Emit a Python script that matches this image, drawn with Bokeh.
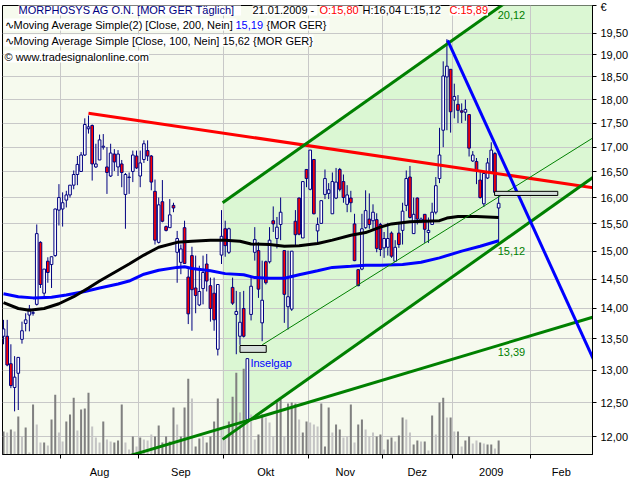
from bokeh.plotting import figure
from bokeh.models import Range1d, FixedTicker, CustomJSTickFormatter, Label, LinearScale
from bokeh.embed import file_html
from bokeh.resources import INLINE
from bokeh.core.properties import value
import numpy as np

FONT = "Liberation Sans"

# ---------------- data ----------------
opens = [13.54, 13.54, 13.10, 12.73, 12.95, 13.49, 13.75, 13.89, 13.92, 14.07,
         15.16, 14.26, 14.82, 14.76, 14.92, 15.76, 15.78, 15.95, 16.05, 16.24,
         16.45, 16.51, 16.84, 17.38, 17.45, 16.60, 16.74, 17.00, 16.60, 16.42,
         16.86, 16.60, 16.66, 16.06, 16.39, 16.51, 16.82, 16.42, 16.75, 16.93,
         16.82, 16.12, 15.16, 15.92, 15.45, 15.43, 15.85, 14.98, 14.80, 15.43,
         14.54, 14.92, 14.35, 14.06, 14.34, 14.77, 14.39, 14.26, 13.33, 14.93,
         15.41, 14.98, 14.36, 13.90, 13.54, 14.00, 12.25, 13.90, 14.98, 15.01,
         13.76, 14.81, 14.81, 15.56, 15.23, 15.49, 15.01, 14.03, 13.99, 15.55,
         15.99, 15.24, 16.55, 16.16, 16.75, 15.37, 15.51, 16.06, 16.08, 15.69,
         15.99, 16.55, 16.31, 15.87, 15.99, 15.50, 14.67, 14.68, 15.43, 15.59,
         15.56, 15.58, 15.49, 15.06, 15.07, 15.33, 14.82, 15.33, 15.38, 15.85,
         16.40, 15.32, 15.99, 15.56, 15.68, 15.34, 15.49, 15.72, 16.37, 17.35,
         18.50, 18.67, 17.99, 17.90, 17.76, 17.73, 17.68, 16.72, 16.71, 16.34,
         15.88, 16.38, 16.50, 16.87, 15.80]
highs = [13.81, 13.81, 13.41, 13.22, 13.20, 13.78, 13.92, 14.06, 13.96, 15.49,
         15.18, 14.68, 14.89, 14.90, 15.79, 16.26, 16.10, 16.13, 16.24, 16.53,
         16.82, 16.90, 17.60, 17.66, 17.47, 17.07, 17.26, 17.27, 17.00, 17.07,
         16.96, 16.94, 16.74, 16.48, 16.49, 16.93, 16.93, 16.93, 17.14, 17.14,
         16.84, 16.35, 16.00, 16.34, 15.47, 15.97, 15.90, 15.37, 15.12, 15.56,
         14.68, 15.08, 14.92, 14.74, 14.92, 14.95, 14.53, 14.53, 14.41, 15.76,
         15.56, 15.43, 14.53, 14.30, 14.28, 14.30, 13.18, 14.55, 15.44, 15.16,
         14.83, 14.83, 15.44, 15.83, 15.63, 16.00, 15.01, 15.01, 15.00, 15.76,
         16.00, 16.31, 16.55, 16.94, 16.75, 15.62, 15.94, 16.55, 16.28, 16.49,
         16.58, 16.58, 16.45, 16.24, 16.13, 15.69, 14.68, 15.69, 16.14, 16.08,
         15.87, 15.70, 15.52, 15.35, 15.52, 15.36, 15.20, 15.50, 15.90, 16.53,
         16.62, 16.00, 16.00, 15.62, 15.68, 15.62, 15.90, 16.40, 17.40, 18.85,
         19.36, 18.67, 18.35, 18.10, 17.92, 18.00, 17.68, 16.92, 16.78, 16.50,
         16.52, 16.78, 17.10, 16.90, 16.04]
lows = [13.41, 13.06, 12.72, 12.37, 12.39, 13.42, 13.62, 13.62, 13.88, 14.05,
        14.35, 14.18, 14.44, 14.35, 14.90, 15.47, 15.45, 15.81, 16.00, 16.16,
        16.24, 16.51, 16.82, 17.28, 16.33, 16.58, 16.74, 16.95, 16.07, 16.40,
        16.52, 16.42, 16.20, 15.41, 16.07, 16.30, 16.56, 16.20, 16.68, 16.72,
        16.14, 15.12, 15.14, 15.53, 15.36, 15.43, 15.72, 14.44, 14.59, 14.78,
        13.74, 13.63, 13.92, 14.04, 14.07, 14.29, 13.78, 13.63, 13.23, 14.77,
        14.90, 14.95, 14.06, 13.25, 13.40, 13.52, 12.20, 13.80, 14.83, 14.18,
        13.46, 14.41, 14.78, 15.35, 15.05, 15.20, 13.76, 13.65, 13.96, 15.10,
        15.29, 15.24, 16.20, 16.14, 15.68, 15.12, 15.51, 15.97, 15.97, 15.69,
        15.97, 16.12, 15.90, 15.72, 15.72, 14.82, 14.38, 14.66, 15.41, 15.41,
        15.41, 14.98, 14.91, 14.88, 14.92, 14.88, 14.81, 15.06, 15.12, 15.74,
        15.60, 15.32, 15.49, 15.52, 15.15, 15.15, 15.49, 15.68, 16.28, 17.00,
        17.35, 17.30, 17.60, 17.50, 17.50, 17.55, 16.81, 16.70, 16.26, 15.98,
        15.82, 16.36, 16.47, 16.06, 15.12]
closes = [13.66, 13.08, 12.76, 12.89, 13.20, 13.63, 13.81, 13.99, 13.93, 15.32,
          14.41, 14.68, 14.62, 14.90, 15.78, 16.00, 15.90, 16.05, 16.24, 16.45,
          16.65, 16.84, 17.47, 17.42, 16.66, 16.66, 17.15, 17.02, 16.49, 16.88,
          16.70, 16.86, 16.49, 16.45, 16.40, 16.84, 16.58, 16.68, 17.07, 16.82,
          16.30, 15.20, 15.86, 15.55, 15.38, 15.67, 15.80, 15.23, 15.04, 14.78,
          13.91, 14.32, 14.22, 14.29, 14.62, 14.47, 14.00, 13.81, 14.41, 15.27,
          15.10, 15.41, 14.09, 13.95, 13.77, 13.54, 13.18, 14.38, 15.21, 14.33,
          14.14, 14.44, 15.20, 15.50, 15.44, 15.72, 14.24, 14.20, 15.00, 15.30,
          15.31, 16.31, 16.37, 16.94, 15.69, 15.49, 15.94, 16.37, 16.15, 16.31,
          16.30, 16.16, 16.00, 16.05, 15.90, 14.83, 14.39, 15.41, 15.75, 15.49,
          15.72, 15.05, 15.03, 15.23, 15.23, 14.91, 15.07, 15.12, 15.74, 16.37,
          15.62, 15.68, 15.59, 15.59, 15.40, 15.38, 15.72, 16.23, 16.84, 18.52,
          18.74, 17.74, 18.07, 17.77, 17.73, 17.79, 16.98, 16.84, 16.54, 16.00,
          16.47, 16.68, 16.94, 16.10, 15.89]
volume = [23, 22, 25, 23, 38, 18, 27, 2, 50, 30, 12, 12, 9, 35, 60, 22, 13, 33, 40, 57,
          24, 45, 46, 62, 28, 17, 12, 33, 15, 13, 12, 14, 50, 12,
          5, 18, 8, 17, 15, 14, 20, 18, 29, 12, 18, 13, 47, 30, 18, 47, 76, 56, 8, 16,
          18, 12, 18, 33, 56, 25, 15, 33, 58, 82, 42, 86, 70, 40,
          15, 20, 40, 37, 32, 18, 52, 55, 18, 51, 52, 51, 35, 22, 33, 32, 30, 28, 51, 8,
          47, 22, 30, 25, 17, 18, 50, 12, 30, 35, 25, 18, 22, 18,
          20, 5, 15, 17, 13, 19, 37, 35, 22, 10, 14, 13, 13, 4, 39, 20, 52, 57, 37, 37,
          23, 23, 8, 14, 18, 11, 14, 12, 11, 10, 10, 6, 14]
vol_shade = ("dldldldldl" "ldlddllddd" "ldddllldll" "dddl"
             "ldldlllddd" "dddldddldd" "lddddllddd" "ldll"
             "lddlllddld" "ddlddllldd" "dlddlldldd" "llld"
             "dlddlddlld" "dldldlddld" "ldlddlldld" "dld")

ma100_x = [0, 4, 7, 11, 15, 19, 23, 26, 30, 34, 38, 42, 47, 51, 56, 60, 64, 67, 72, 76,
           80, 85, 89, 94, 98, 102, 105, 110, 114, 118, 120, 123, 128, 134]
ma100_y = [14.10, 14.00, 13.97, 14.00, 14.08, 14.20, 14.35, 14.47, 14.62, 14.77,
           14.93, 15.07, 15.16, 15.18, 15.20, 15.20, 15.18, 15.13, 15.12, 15.09,
           15.10, 15.14, 15.20, 15.29, 15.34, 15.44, 15.50, 15.54, 15.55, 15.56,
           15.61, 15.64, 15.64, 15.62]
ma200_x = [0, 4, 8, 13, 17, 22, 26, 31, 34, 38, 42, 47, 49, 51, 56, 60, 65, 68, 72, 76,
           80, 85, 89, 94, 98, 102, 108, 113, 118, 124, 129, 134]
ma200_y = [14.25, 14.20, 14.18, 14.19, 14.23, 14.29, 14.35, 14.42, 14.47, 14.59,
           14.66, 14.71, 14.72, 14.69, 14.65, 14.60, 14.58, 14.53, 14.52, 14.52,
           14.58, 14.65, 14.71, 14.73, 14.75, 14.75, 14.76, 14.80, 14.88, 15.00,
           15.09, 15.19]

month_labels = ["Aug", "Sep", "Okt", "Nov", "Dez", "2009", "Feb"]
month_first_idx = [16, 37, 60, 83, 103, 122, 143]
price_ticks = [12.0, 12.5, 13.0, 13.5, 14.0, 14.5, 15.0, 15.5, 16.0, 16.5,
               17.0, 17.5, 18.0, 18.5, 19.0, 19.5]
currency = "\u20ac"

# drawn trend lines: anchor points (bar index, price)
resist_x = [23.0, 170.0]
resist_y = [17.71, 16.08]
chan_up_x = [59.3, 170.0]
chan_up_y = [15.90, 22.52]
chan_lo_x = [59.3, 170.0]
chan_lo_y = [11.96, 16.94]
support_x = [34.4, 170.0]
support_y = [11.73, 14.05]
thin_x = [70.0, 170.0]
thin_y = [13.40, 17.70]
down_x = [120.2, 170.0]
down_y = [19.33, 11.91]
gap_left = [64.0, 132.9]
gap_right = [71.1, 150.0]
gap_low = [13.28, 16.04]
gap_high = [13.39, 16.12]
line_value_labels = ["20,12", "15,12", "13,39"]

# ---------------- figure ----------------
X0, X1 = -0.27, 159.4
Y0, Y1 = 11.744, 20.16
p = figure(width=640, height=480, output_backend="svg", toolbar_location=None,
           y_axis_type="log", y_axis_location="right",
           x_range=Range1d(X0, X1), y_range=Range1d(Y0, Y1),
           min_border_left=2, min_border_right=48, min_border_top=5, min_border_bottom=25)
p.background_fill_color = "#f6faee"
p.border_fill_color = "white"
p.outline_line_color = "black"
p.outline_line_width = 1

p.extra_y_ranges = {"vol": Range1d(0, 450)}
p.extra_y_scales = {"vol": LinearScale()}

# axes / grid
bounds = [f - 0.5 for f in month_first_idx]
centers = [(a + b) / 2 for a, b in zip(bounds[:-1], bounds[1:])] + [(bounds[-1] + X1) / 2]
xt = FixedTicker(ticks=centers, minor_ticks=bounds)
p.xaxis.ticker = xt
p.xaxis.formatter = CustomJSTickFormatter(args=dict(centers=centers, labels=month_labels), code="""
let best = 0, bd = 1e9;
for (let i = 0; i < centers.length; i++) { const d = Math.abs(centers[i] - tick); if (d < bd) { bd = d; best = i; } }
return labels[best];
""")
p.xaxis.major_tick_out = 0
p.xaxis.major_tick_in = 0
p.xaxis.minor_tick_out = 4
p.xaxis.minor_tick_in = 0
p.xaxis.minor_tick_line_color = "black"
p.xaxis.axis_line_color = "black"
p.xaxis.major_label_standoff = 7
p.xaxis.major_label_text_font = FONT
p.xaxis.major_label_text_font_size = "11px"
p.xaxis.major_label_text_color = "black"
p.xgrid.ticker = xt
p.xgrid.grid_line_color = None
p.xgrid.minor_grid_line_color = "#c8c8c8"

yt_axis = FixedTicker(ticks=price_ticks + [Y1])
p.yaxis.ticker = yt_axis
p.yaxis.formatter = CustomJSTickFormatter(args=dict(cur=currency, top=Y1), code="""
if (Math.abs(tick - top) < 1e-6) { return cur; }
return tick.toFixed(2).replace('.', ',');
""")
p.yaxis.major_tick_out = 4
p.yaxis.major_tick_in = 0
p.yaxis.minor_tick_out = 0
p.yaxis.minor_tick_in = 0
p.yaxis.axis_line_color = "black"
p.yaxis.major_label_standoff = 4
p.yaxis.major_label_text_font = FONT
p.yaxis.major_label_text_font_size = "11px"
p.yaxis.major_label_text_color = "black"
p.ygrid.ticker = FixedTicker(ticks=price_ticks)
p.ygrid.grid_line_color = "#c8c8c8"

# channel fill (behind grid)
p.patch(x=[chan_lo_x[0], chan_lo_x[1], chan_up_x[1], chan_up_x[0]],
        y=[chan_lo_y[0], chan_lo_y[1], chan_up_y[1], chan_up_y[0]],
        fill_color="#dbf7d3", line_color=None, level="image")

# volume
n = len(closes)
xs = list(range(n))
vcol = ["#808080" if s == "d" else "#c4c4c4" for s in vol_shade[:n]]
p.vbar(x=xs, top=volume, bottom=0, width=0.55, fill_color=vcol, line_color=None,
       y_range_name="vol")

# candles
up = [c >= o for o, c in zip(opens, closes)]
body_top = [max(o, c) for o, c in zip(opens, closes)]
body_bot = [min(o, c) for o, c in zip(opens, closes)]
body_fill = ["white" if u else "#ff0000" for u in up]
p.segment(x0=xs, y0=lows, x1=xs, y1=highs, line_color="#000080", line_width=1)
p.vbar(x=xs, top=body_top, bottom=body_bot, width=0.72, fill_color=body_fill,
       line_color="#000080", line_width=1)

# moving averages
p.line(ma200_x, ma200_y, line_color="#0000ff", line_width=3)
p.line(ma100_x, ma100_y, line_color="black", line_width=3)

# trend lines
p.line(resist_x, resist_y, line_color="#ff0000", line_width=3)
p.line(thin_x, thin_y, line_color="#008000", line_width=1)
p.line(chan_up_x, chan_up_y, line_color="#008000", line_width=3)
p.line(chan_lo_x, chan_lo_y, line_color="#008000", line_width=3)
p.line(support_x, support_y, line_color="#008000", line_width=3)
p.line(down_x, down_y, line_color="#0000ff", line_width=3)

# gap boxes
p.quad(left=gap_left, right=gap_right, bottom=gap_low, top=gap_high,
       fill_color="#d3ddd9", line_color="black", line_width=1)

island = int(np.argmin(lows))
p.text(x=[island], y=[highs[island]], text=["Inselgap"], x_offset=3, y_offset=4,
       text_font=value(FONT), text_font_size="11px", text_color="#0000ff",
       text_baseline="middle", text_align="left")

last = n - 1
def at_last(xa, ya):
    return float(10 ** np.interp(last, xa, np.log10(ya)))
lv_y = [at_last(chan_up_x, chan_up_y), at_last(chan_lo_x, chan_lo_y), at_last(support_x, support_y)]
p.text(x=[last] * 3, y=lv_y, text=line_value_labels, x_offset=-1, y_offset=7,
       text_font=value(FONT), text_font_size="11px", text_color="#008000",
       text_baseline="middle", text_align="left")

# header texts
def hdr(txt, dx, dy, color="black"):
    p.add_layout(Label(x=X0, y=Y1, x_offset=dx, y_offset=dy, text=txt,
                       text_font=FONT, text_font_size="11px", text_color=color,
                       text_baseline="middle", text_align="left",
                       background_fill_color="white"))

hdr("MORPHOSYS AG O.N. [MOR GER  T\u00e4glich] ", 16, -4, "#000080")
hdr("21.01.2009 - ", 250, -4)
hdr("O:15,80", 317, -4, "#ff0000")
hdr("H:16,04 L:15,12", 360, -4)
hdr("C:15,89", 447, -4, "#ff0000")
hdr("\u223fMoving Average Simple(2) [Close, 200, Nein] ", 2, -19)
hdr("15,19", 233, -19, "#0000ff")
hdr(" {MOR GER}", 264, -19)
hdr("\u223fMoving Average Simple [Close, 100, Nein] 15,62 {MOR GER}", 2, -35)
hdr("\u00a9 www.tradesignalonline.com", 2, -51)

open("out.html", "w").write(file_html(p, INLINE))
